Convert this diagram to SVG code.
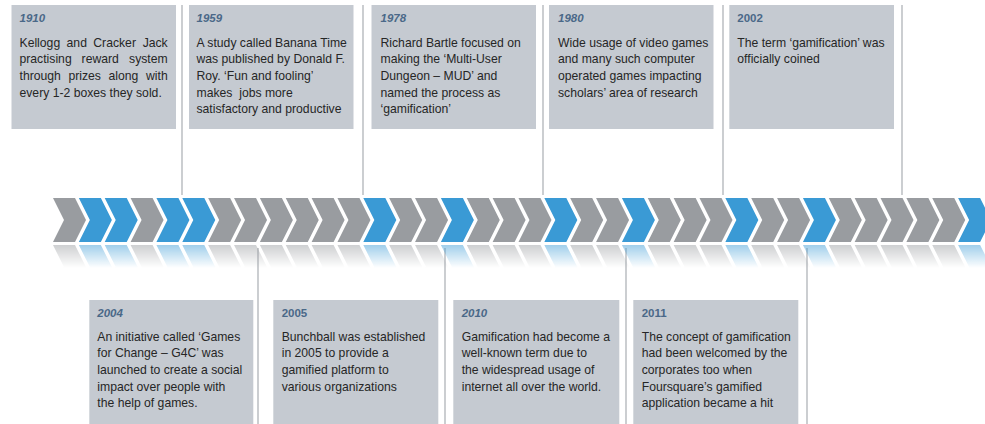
<svg xmlns="http://www.w3.org/2000/svg" xmlns:xlink="http://www.w3.org/1999/xlink" width="985" height="424" viewBox="0 0 985 424">
<style>
.box{fill:#c5cad1}
.yr{font-family:"Liberation Sans",Arial,sans-serif;font-size:11.5px;font-weight:bold;fill:#4a6888}
.it{font-style:italic}
.tx{font-family:"Liberation Sans",Arial,sans-serif;font-size:12.2px;fill:#262626}
.end{text-anchor:end}
.ln{stroke:#a9adb2;stroke-width:1.2;fill:none}
.g{fill:#999ca0}
.b{fill:#3a9ad5}
</style>
<defs>
<polygon id="chev" points="0,198 22,198 33,220 22,242 0,242 11,220"/>
<linearGradient id="fade" x1="0" y1="244" x2="0" y2="268" gradientUnits="userSpaceOnUse">
<stop offset="0" stop-color="#fff" stop-opacity="0.5"/>
<stop offset="1" stop-color="#fff" stop-opacity="0"/>
</linearGradient>
<mask id="rmask" maskUnits="userSpaceOnUse" x="0" y="240" width="985" height="40">
<rect x="0" y="244" width="985" height="26" fill="url(#fade)"/>
</mask>
</defs>
<rect width="985" height="424" fill="#fff"/>

<g id="connectors">
<line class="ln" x1="182" y1="5" x2="182" y2="195"/>
<line class="ln" x1="363" y1="5" x2="363" y2="195"/>
<line class="ln" x1="543" y1="5" x2="543" y2="195"/>
<line class="ln" x1="723" y1="5" x2="723" y2="195"/>
<line class="ln" x1="902" y1="5" x2="902" y2="195"/>
<line class="ln" x1="258" y1="248" x2="258" y2="424"/>
<line class="ln" x1="445" y1="248" x2="445" y2="424"/>
<line class="ln" x1="626" y1="248" x2="626" y2="424"/>
<line class="ln" x1="807" y1="248" x2="807" y2="424"/>
</g>

<g id="band">
<g id="chevrons">
<use xlink:href="#chev" class="g" x="53"/>
<use xlink:href="#chev" class="b" x="78.86"/>
<use xlink:href="#chev" class="b" x="104.72"/>
<use xlink:href="#chev" class="g" x="130.58"/>
<use xlink:href="#chev" class="b" x="156.44"/>
<use xlink:href="#chev" class="b" x="182.3"/>
<use xlink:href="#chev" class="g" x="208.16"/>
<use xlink:href="#chev" class="g" x="234.02"/>
<use xlink:href="#chev" class="g" x="259.88"/>
<use xlink:href="#chev" class="g" x="285.74"/>
<use xlink:href="#chev" class="g" x="311.6"/>
<use xlink:href="#chev" class="g" x="337.46"/>
<use xlink:href="#chev" class="b" x="363.32"/>
<use xlink:href="#chev" class="g" x="389.18"/>
<use xlink:href="#chev" class="g" x="415.04"/>
<use xlink:href="#chev" class="b" x="440.9"/>
<use xlink:href="#chev" class="g" x="466.76"/>
<use xlink:href="#chev" class="g" x="492.62"/>
<use xlink:href="#chev" class="g" x="518.48"/>
<use xlink:href="#chev" class="b" x="544.34"/>
<use xlink:href="#chev" class="g" x="570.2"/>
<use xlink:href="#chev" class="g" x="596.06"/>
<use xlink:href="#chev" class="b" x="621.92"/>
<use xlink:href="#chev" class="g" x="647.78"/>
<use xlink:href="#chev" class="g" x="673.64"/>
<use xlink:href="#chev" class="g" x="699.5"/>
<use xlink:href="#chev" class="b" x="725.36"/>
<use xlink:href="#chev" class="g" x="751.22"/>
<use xlink:href="#chev" class="g" x="777.08"/>
<use xlink:href="#chev" class="b" x="802.94"/>
<use xlink:href="#chev" class="g" x="828.8"/>
<use xlink:href="#chev" class="g" x="854.66"/>
<use xlink:href="#chev" class="g" x="880.52"/>
<use xlink:href="#chev" class="g" x="906.38"/>
<use xlink:href="#chev" class="g" x="932.24"/>
<use xlink:href="#chev" class="b" x="958.1"/>
</g>
<g mask="url(#rmask)">
<use xlink:href="#chevrons" transform="translate(0,487) scale(1,-1)"/>
</g>
</g>

<g id="e1910">
<rect class="box" x="11.5" y="5" width="164.5" height="124"/>
<text class="yr it" x="19.5" y="21.5">1910</text>
<text class="tx" y="46.7"><tspan x="19.5">Kellogg</tspan><tspan x="66.6">and</tspan><tspan x="93.3">Cracker</tspan></text>
<text class="tx end" x="167.7" y="46.7">Jack</text>
<text class="tx" y="63.3"><tspan x="19.5">practising</tspan><tspan x="81.6">reward</tspan></text>
<text class="tx end" x="167.7" y="63.3">system</text>
<text class="tx" y="80"><tspan x="19.5">through</tspan><tspan x="68.4">prizes</tspan><tspan x="108.4">along</tspan></text>
<text class="tx end" x="167.7" y="80">with</text>
<text class="tx" x="19.5" y="96.6">every 1-2 boxes they sold.</text>
</g>

<g id="e1959">
<rect class="box" x="189" y="5" width="164.5" height="124"/>
<text class="yr it" x="196.5" y="21.5">1959</text>
<text class="tx" x="196.5" y="46.7">A study called Banana Time</text>
<text class="tx" x="196.5" y="63.3">was published by Donald F.</text>
<text class="tx" x="196.5" y="80">Roy. ‘Fun and fooling’</text>
<text class="tx" x="196.5" y="96.6" style="white-space:pre">makes  jobs more</text>
<text class="tx" x="196.5" y="113.2">satisfactory and productive</text>
</g>

<g id="e1978">
<rect class="box" x="371.5" y="5" width="164.5" height="124"/>
<text class="yr it" x="380.5" y="21.5">1978</text>
<text class="tx" x="380.5" y="46.7">Richard Bartle focused on</text>
<text class="tx" x="380.5" y="63.3">making the ‘Multi-User</text>
<text class="tx" x="380.5" y="80">Dungeon – MUD’ and</text>
<text class="tx" x="380.5" y="96.6">named the process as</text>
<text class="tx" x="380.5" y="113.2">‘gamification’</text>
</g>

<g id="e1980">
<rect class="box" x="549" y="5" width="164.5" height="124"/>
<text class="yr it" x="558" y="21.5">1980</text>
<text class="tx" x="558" y="46.7">Wide usage of video games</text>
<text class="tx" x="558" y="63.3">and many such computer</text>
<text class="tx" x="558" y="80">operated games impacting</text>
<text class="tx" x="558" y="96.6">scholars’ area of research</text>
</g>

<g id="e2002">
<rect class="box" x="729.3" y="5" width="164.7" height="124"/>
<text class="yr" x="737.3" y="21.5">2002</text>
<text class="tx" x="737.3" y="46.7">The term ‘gamification’ was</text>
<text class="tx" x="737.3" y="63.3">officially coined</text>
</g>

<g id="e2004">
<rect class="box" x="89.3" y="300" width="164" height="124"/>
<text class="yr it" x="97.3" y="317.3">2004</text>
<text class="tx" x="97.3" y="340.7">An initiative called ‘Games</text>
<text class="tx" x="97.3" y="357.3">for Change – G4C’ was</text>
<text class="tx" x="97.3" y="374">launched to create a social</text>
<text class="tx" x="97.3" y="390.7">impact over people with</text>
<text class="tx" x="97.3" y="407.3">the help of games.</text>
</g>

<g id="e2005">
<rect class="box" x="273.3" y="300" width="165" height="124"/>
<text class="yr" x="281.7" y="317.3">2005</text>
<text class="tx" x="281.7" y="340.7">Bunchball was established</text>
<text class="tx" x="281.7" y="357.3">in 2005 to provide a</text>
<text class="tx" x="281.7" y="374">gamified platform to</text>
<text class="tx" x="281.7" y="390.7">various organizations</text>
</g>

<g id="e2010">
<rect class="box" x="453.3" y="300" width="166" height="124"/>
<text class="yr it" x="461.7" y="317.3">2010</text>
<text class="tx" x="461.7" y="340.7">Gamification had become a</text>
<text class="tx" x="461.7" y="357.3">well-known term due to</text>
<text class="tx" x="461.7" y="374">the widespread usage of</text>
<text class="tx" x="461.7" y="390.7">internet all over the world.</text>
</g>

<g id="e2011">
<rect class="box" x="633.3" y="300" width="165" height="124"/>
<text class="yr" x="641.7" y="317.3">2011</text>
<text class="tx" x="641.7" y="340.7">The concept of gamification</text>
<text class="tx" x="641.7" y="357.3">had been welcomed by the</text>
<text class="tx" x="641.7" y="374">corporates too when</text>
<text class="tx" x="641.7" y="390.7">Foursquare’s gamified</text>
<text class="tx" x="641.7" y="407.3">application became a hit</text>
</g>
</svg>
